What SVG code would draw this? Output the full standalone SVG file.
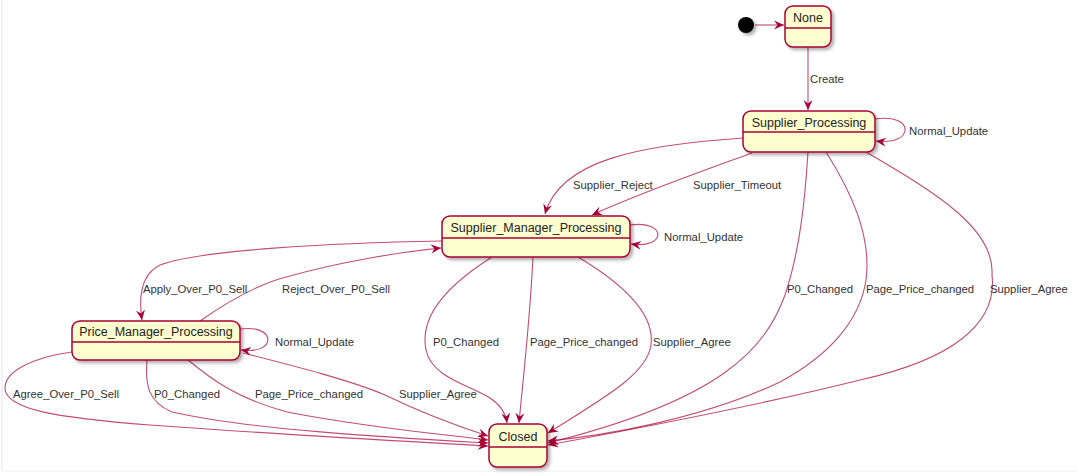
<svg xmlns="http://www.w3.org/2000/svg" width="1077" height="476" viewBox="0 0 1077 476">
<defs>
<style>
.node rect.box{fill:#FEFECE;stroke:#A80036;stroke-width:1.5;filter:url(#sh)}
.node line{stroke:#A80036;stroke-width:1.5}
.node text{font-family:"Liberation Sans",Arial,sans-serif;font-size:12.5px;fill:#222;text-anchor:middle}
.edge{fill:none;stroke:#A80036;stroke-opacity:0.7;stroke-width:1.1;marker-end:url(#arr)}
.lbl{font-family:"Liberation Sans",Arial,sans-serif;font-size:11.3px;fill:#333}
</style>
<filter id="sh" x="-20%" y="-20%" width="140%" height="160%">
<feDropShadow dx="2.5" dy="2.5" stdDeviation="1.8" flood-color="#000" flood-opacity="0.3"/>
</filter>
<marker id="arr" markerUnits="userSpaceOnUse" markerWidth="11" markerHeight="10" refX="10" refY="5" orient="auto" viewBox="0 0 11 10">
<path d="M0,0.5 L10,5 L0,9.5 L3.5,5 z" fill="#A80036"/>
</marker>
</defs>
<rect x="0" y="0" width="1077" height="476" fill="#fff"/>
<line x1="2" y1="0" x2="2" y2="471" stroke="#e6e6e6" stroke-width="1"/>
<line x1="2" y1="471" x2="1077" y2="471" stroke="#eeeeee" stroke-width="1"/>

<g id="connectors">
<path class="edge" d="M755,25 L784,25"/>
<path class="edge" d="M808,47 L808,110"/>
<path class="edge" d="M875,119 C915,113 915,146 876,141"/>
<path class="edge" d="M743,138 C640,145 560,160 545,214"/>
<path class="edge" d="M752,153 C700,172 640,193 592,215"/>
<path class="edge" d="M630,225 C667,220 667,249 631,244"/>
<path class="edge" d="M442,241 C330,243 200,250 160,265 C140,275 139,300 142,320"/>
<path class="edge" d="M200,321 C230,300 260,283 290,276 C340,262 400,252 441,248"/>
<path class="edge" d="M240,329 C277,324 277,355 241,350"/>
<path class="edge" d="M72,352 C30,358 5,372 5,388 C5,410 60,418 150,425 C300,436 420,442 488,446"/>
<path class="edge" d="M147,360 C145,385 148,402 172,412 C250,430 400,438 488,443"/>
<path class="edge" d="M188,360 C210,378 235,398 287,412 C370,428 440,434 488,440"/>
<path class="edge" d="M243,353 C290,365 350,380 385,395 C420,412 460,427 488,436"/>
<path class="edge" d="M492,257 C440,290 420,320 426,350 C432,378 470,385 490,398 C502,406 506,414 507,423"/>
<path class="edge" d="M533,257 C530,320 523,380 519,423"/>
<path class="edge" d="M578,257 C625,285 655,315 651,345 C647,375 600,400 548,433"/>
<path class="edge" d="M808,152 C805,200 800,250 785,295 C765,350 720,400 548,443"/>
<path class="edge" d="M826,152 C850,190 872,235 866,280 C860,320 830,355 780,382 C700,420 600,436 548,441"/>
<path class="edge" d="M866,152 C940,195 995,230 992,275 C998,325 950,360 860,380 C760,405 640,428 548,445"/>
<text class="lbl" x="810" y="83">Create</text>
<text class="lbl" x="909" y="135">Normal_Update</text>
<text class="lbl" x="573" y="189">Supplier_Reject</text>
<text class="lbl" x="693" y="189">Supplier_Timeout</text>
<text class="lbl" x="664" y="241">Normal_Update</text>
<text class="lbl" x="143" y="293">Apply_Over_P0_Sell</text>
<text class="lbl" x="282" y="293">Reject_Over_P0_Sell</text>
<text class="lbl" x="275" y="346">Normal_Update</text>
<text class="lbl" x="433" y="346">P0_Changed</text>
<text class="lbl" x="530" y="346">Page_Price_changed</text>
<text class="lbl" x="653" y="346">Supplier_Agree</text>
<text class="lbl" x="787" y="293">P0_Changed</text>
<text class="lbl" x="866" y="293">Page_Price_changed</text>
<text class="lbl" x="990" y="293">Supplier_Agree</text>
<text class="lbl" x="13" y="398">Agree_Over_P0_Sell</text>
<text class="lbl" x="154" y="398">P0_Changed</text>
<text class="lbl" x="255" y="398">Page_Price_changed</text>
<text class="lbl" x="399" y="398">Supplier_Agree</text>
</g>

<g id="start">
<circle cx="746" cy="25" r="8" fill="#000" filter="url(#sh)"/>
</g>
<g id="None" class="node">
<rect class="box" x="785" y="6" width="46" height="41" rx="8"/>
<line x1="785" y1="28" x2="831" y2="28"/>
<text x="808" y="21.5">None</text>
</g>
<g id="Supplier_Processing" class="node">
<rect class="box" x="743" y="111" width="132" height="41" rx="8"/>
<line x1="743" y1="132" x2="875" y2="132"/>
<text x="809" y="126.5">Supplier_Processing</text>
</g>
<g id="Supplier_Manager_Processing" class="node">
<rect class="box" x="442" y="216" width="188" height="41" rx="8"/>
<line x1="442" y1="238" x2="630" y2="238"/>
<text x="536" y="231.5">Supplier_Manager_Processing</text>
</g>
<g id="Price_Manager_Processing" class="node">
<rect class="box" x="72" y="321" width="168" height="39" rx="8"/>
<line x1="72" y1="342" x2="240" y2="342"/>
<text x="156" y="335.5">Price_Manager_Processing</text>
</g>
<g id="Closed" class="node">
<rect class="box" x="489" y="424" width="58" height="43" rx="8"/>
<line x1="489" y1="447" x2="547" y2="447"/>
<text x="518" y="440.5">Closed</text>
</g>
</svg>
